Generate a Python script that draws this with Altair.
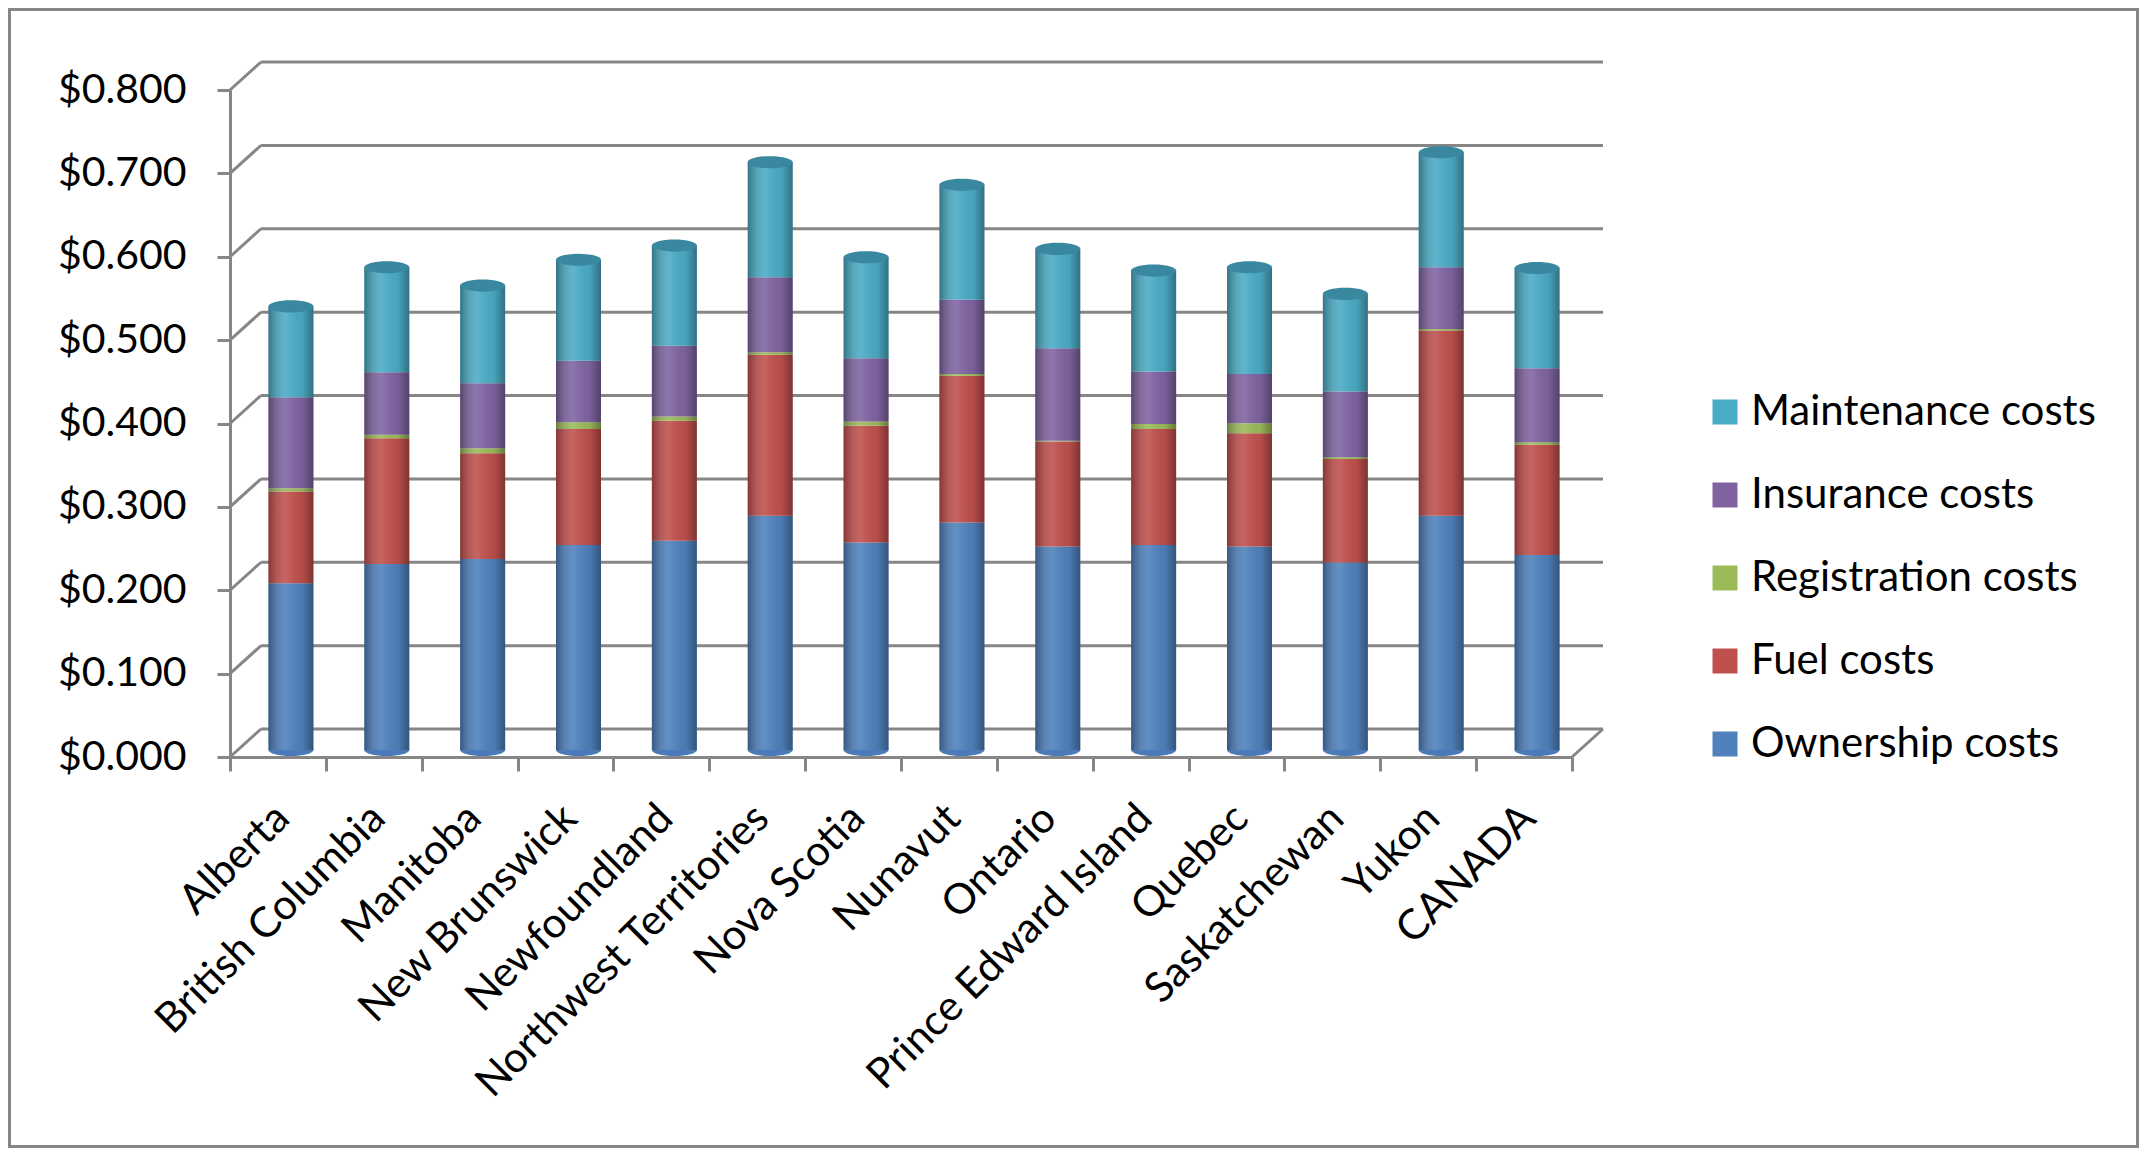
import altair as alt
import pandas as pd

# Cost per km by province
provinces = [
    "Alberta", "British Columbia", "Manitoba", "New Brunswick", "Newfoundland",
    "Northwest Territories", "Nova Scotia", "Nunavut", "Ontario",
    "Prince Edward Island", "Quebec", "Saskatchewan", "Yukon", "CANADA",
]
ownership = [0.200, 0.223, 0.229, 0.246, 0.251, 0.281, 0.249, 0.273, 0.244, 0.246, 0.244, 0.225, 0.281, 0.234]
fuel = [0.110, 0.151, 0.127, 0.139, 0.144, 0.193, 0.140, 0.176, 0.126, 0.139, 0.136, 0.124, 0.222, 0.132]
registration = [0.004, 0.004, 0.006, 0.008, 0.005, 0.003, 0.005, 0.002, 0.001, 0.006, 0.012, 0.002, 0.002, 0.003]
insurance = [0.109, 0.075, 0.078, 0.074, 0.085, 0.090, 0.076, 0.089, 0.111, 0.063, 0.059, 0.079, 0.074, 0.089]
maintenance = [0.109, 0.126, 0.117, 0.121, 0.120, 0.138, 0.121, 0.138, 0.119, 0.121, 0.128, 0.117, 0.138, 0.120]

series_names = ["Ownership costs", "Fuel costs", "Registration costs", "Insurance costs", "Maintenance costs"]
series_colors = ["#4F81BD", "#C0504D", "#9BBB59", "#8064A2", "#4BACC6"]
y_ticks = [0.0, 0.1, 0.2, 0.3, 0.4, 0.5, 0.6, 0.7, 0.8]

W, H = 1342, 667
DEPTH_X, DEPTH_Y = 31, 28
BAR_W = 45
GRID = "#868686"
FONT = "Lato"

rows = []
for k, (name, vals) in enumerate(zip(series_names, [ownership, fuel, registration, insurance, maintenance])):
    for p, v in zip(provinces, vals):
        rows.append({"province": p, "series": name, "rank": k, "cost": v})
df = pd.DataFrame(rows)
totals = df.groupby("province", as_index=False, sort=False)["cost"].sum().rename(columns={"cost": "total"})
ticks = pd.DataFrame({"v": y_ticks})

y_scale = alt.Scale(domain=[0, 0.8], nice=False, zero=True)
y_axis = alt.Axis(
    values=y_ticks, format="$.3f", grid=False, domainColor=GRID, domainWidth=3,
    tickColor=GRID, tickWidth=3, tickSize=13, labelPadding=31,
    labelFont=FONT, labelFontSize=41, labelColor="black", title=None,
)
x_enc = alt.X(
    "province:N", sort=provinces, title=None,
    scale=alt.Scale(paddingInner=0, paddingOuter=0),
    axis=alt.Axis(
        labelAngle=315, labelFont=FONT, labelFontSize=42, labelColor="black",
        labelLimit=800, labelPadding=26, labelOffset=-10, tickBand="extent", tickSize=14,
        tickColor=GRID, tickWidth=3, domainColor=GRID, domainWidth=3, grid=False,
    ),
)

# 3D-ish back wall: gridlines shifted back and diagonals to the front axis
back_lines = alt.Chart(ticks).mark_rule(color=GRID, strokeWidth=3, yOffset=-DEPTH_Y).encode(
    y=alt.Y("v:Q", scale=y_scale, axis=y_axis),
    x=alt.value(DEPTH_X), x2=alt.value(W + DEPTH_X),
)
diagonals = alt.Chart(ticks).mark_rule(color=GRID, strokeWidth=3, y2Offset=-DEPTH_Y).encode(
    y=alt.Y("v:Q", scale=y_scale, axis=y_axis), y2="v:Q",
    x=alt.value(0), x2=alt.value(DEPTH_X),
)
floor_right = alt.Chart(ticks).transform_filter("datum.v == 0").mark_rule(
    color=GRID, strokeWidth=3, y2Offset=-DEPTH_Y
).encode(
    y=alt.Y("v:Q", scale=y_scale, axis=y_axis), y2="v:Q",
    x=alt.value(W), x2=alt.value(W + DEPTH_X),
)

ellipse = "M -1 0 A 1 0.27 0 1 0 1 0 A 1 0.27 0 1 0 -1 0 Z"

bottoms = alt.Chart(totals).mark_point(
    shape=ellipse, size=BAR_W ** 2, filled=True, opacity=1, strokeWidth=0,
    color="#4A7BB8", xOffset=13, yOffset=-7,
).encode(x=x_enc, y=alt.Y("zero:Q", scale=y_scale, axis=y_axis)).transform_calculate(zero="0")

bars = alt.Chart(df).mark_bar(size=BAR_W, xOffset=13, yOffset=-7, y2Offset=-7).encode(
    x=x_enc,
    y=alt.Y("cost:Q", stack="zero", scale=y_scale, axis=y_axis),
    color=alt.Color(
        "series:N",
        scale=alt.Scale(domain=series_names[::-1], range=series_colors[::-1]),
        legend=alt.Legend(
            title=None, orient="none", legendX=1474, legendY=301, padding=0,
            symbolType="square", symbolSize=625, symbolStrokeWidth=0, symbolOpacity=1,
            labelFont=FONT, labelFontSize=42, labelColor="black", labelLimit=800,
            labelOffset=5, rowPadding=41,
        ),
    ),
    order=alt.Order("rank:Q", sort="ascending"),
)

shade = alt.Gradient(
    gradient="linear", x1=0, x2=1, y1=0, y2=0,
    stops=[
        alt.GradientStop(color="rgba(0,0,0,0.32)", offset=0),
        alt.GradientStop(color="rgba(255,255,255,0.10)", offset=0.4),
        alt.GradientStop(color="rgba(0,0,0,0.05)", offset=0.75),
        alt.GradientStop(color="rgba(0,0,0,0.35)", offset=1),
    ],
)
shading = alt.Chart(totals).mark_bar(size=BAR_W, xOffset=13, yOffset=-7, y2Offset=-7, color=shade).encode(
    x=x_enc, y=alt.Y("total:Q", scale=y_scale, axis=y_axis),
)

caps = alt.Chart(totals).mark_point(
    shape=ellipse, size=BAR_W ** 2, filled=True, opacity=1, strokeWidth=0,
    color="#3A88A0", xOffset=13, yOffset=-7,
).encode(x=x_enc, y=alt.Y("total:Q", scale=y_scale, axis=y_axis))

# outer chart frame
frame = alt.Chart(pd.DataFrame({"f": [0]})).mark_rect(
    fill="white", fillOpacity=0, stroke=GRID, strokeWidth=3
).encode(
    x=alt.value(-220.5), x2=alt.value(W + 565.5),
    y=alt.value(-80.5), y2=alt.value(H + 389.5),
)

chart = (
    alt.layer(frame, back_lines, diagonals, floor_right, bottoms, bars, shading, caps)
    .properties(
        width=W, height=H,
        autosize=alt.AutoSizeParams(type="none"),
        padding={"left": 222, "top": 82, "right": 567, "bottom": 391},
        background="white",
    )
    .configure_view(stroke=None)
)

chart.save("out.html", embed_options={"renderer": "svg", "actions": False})
